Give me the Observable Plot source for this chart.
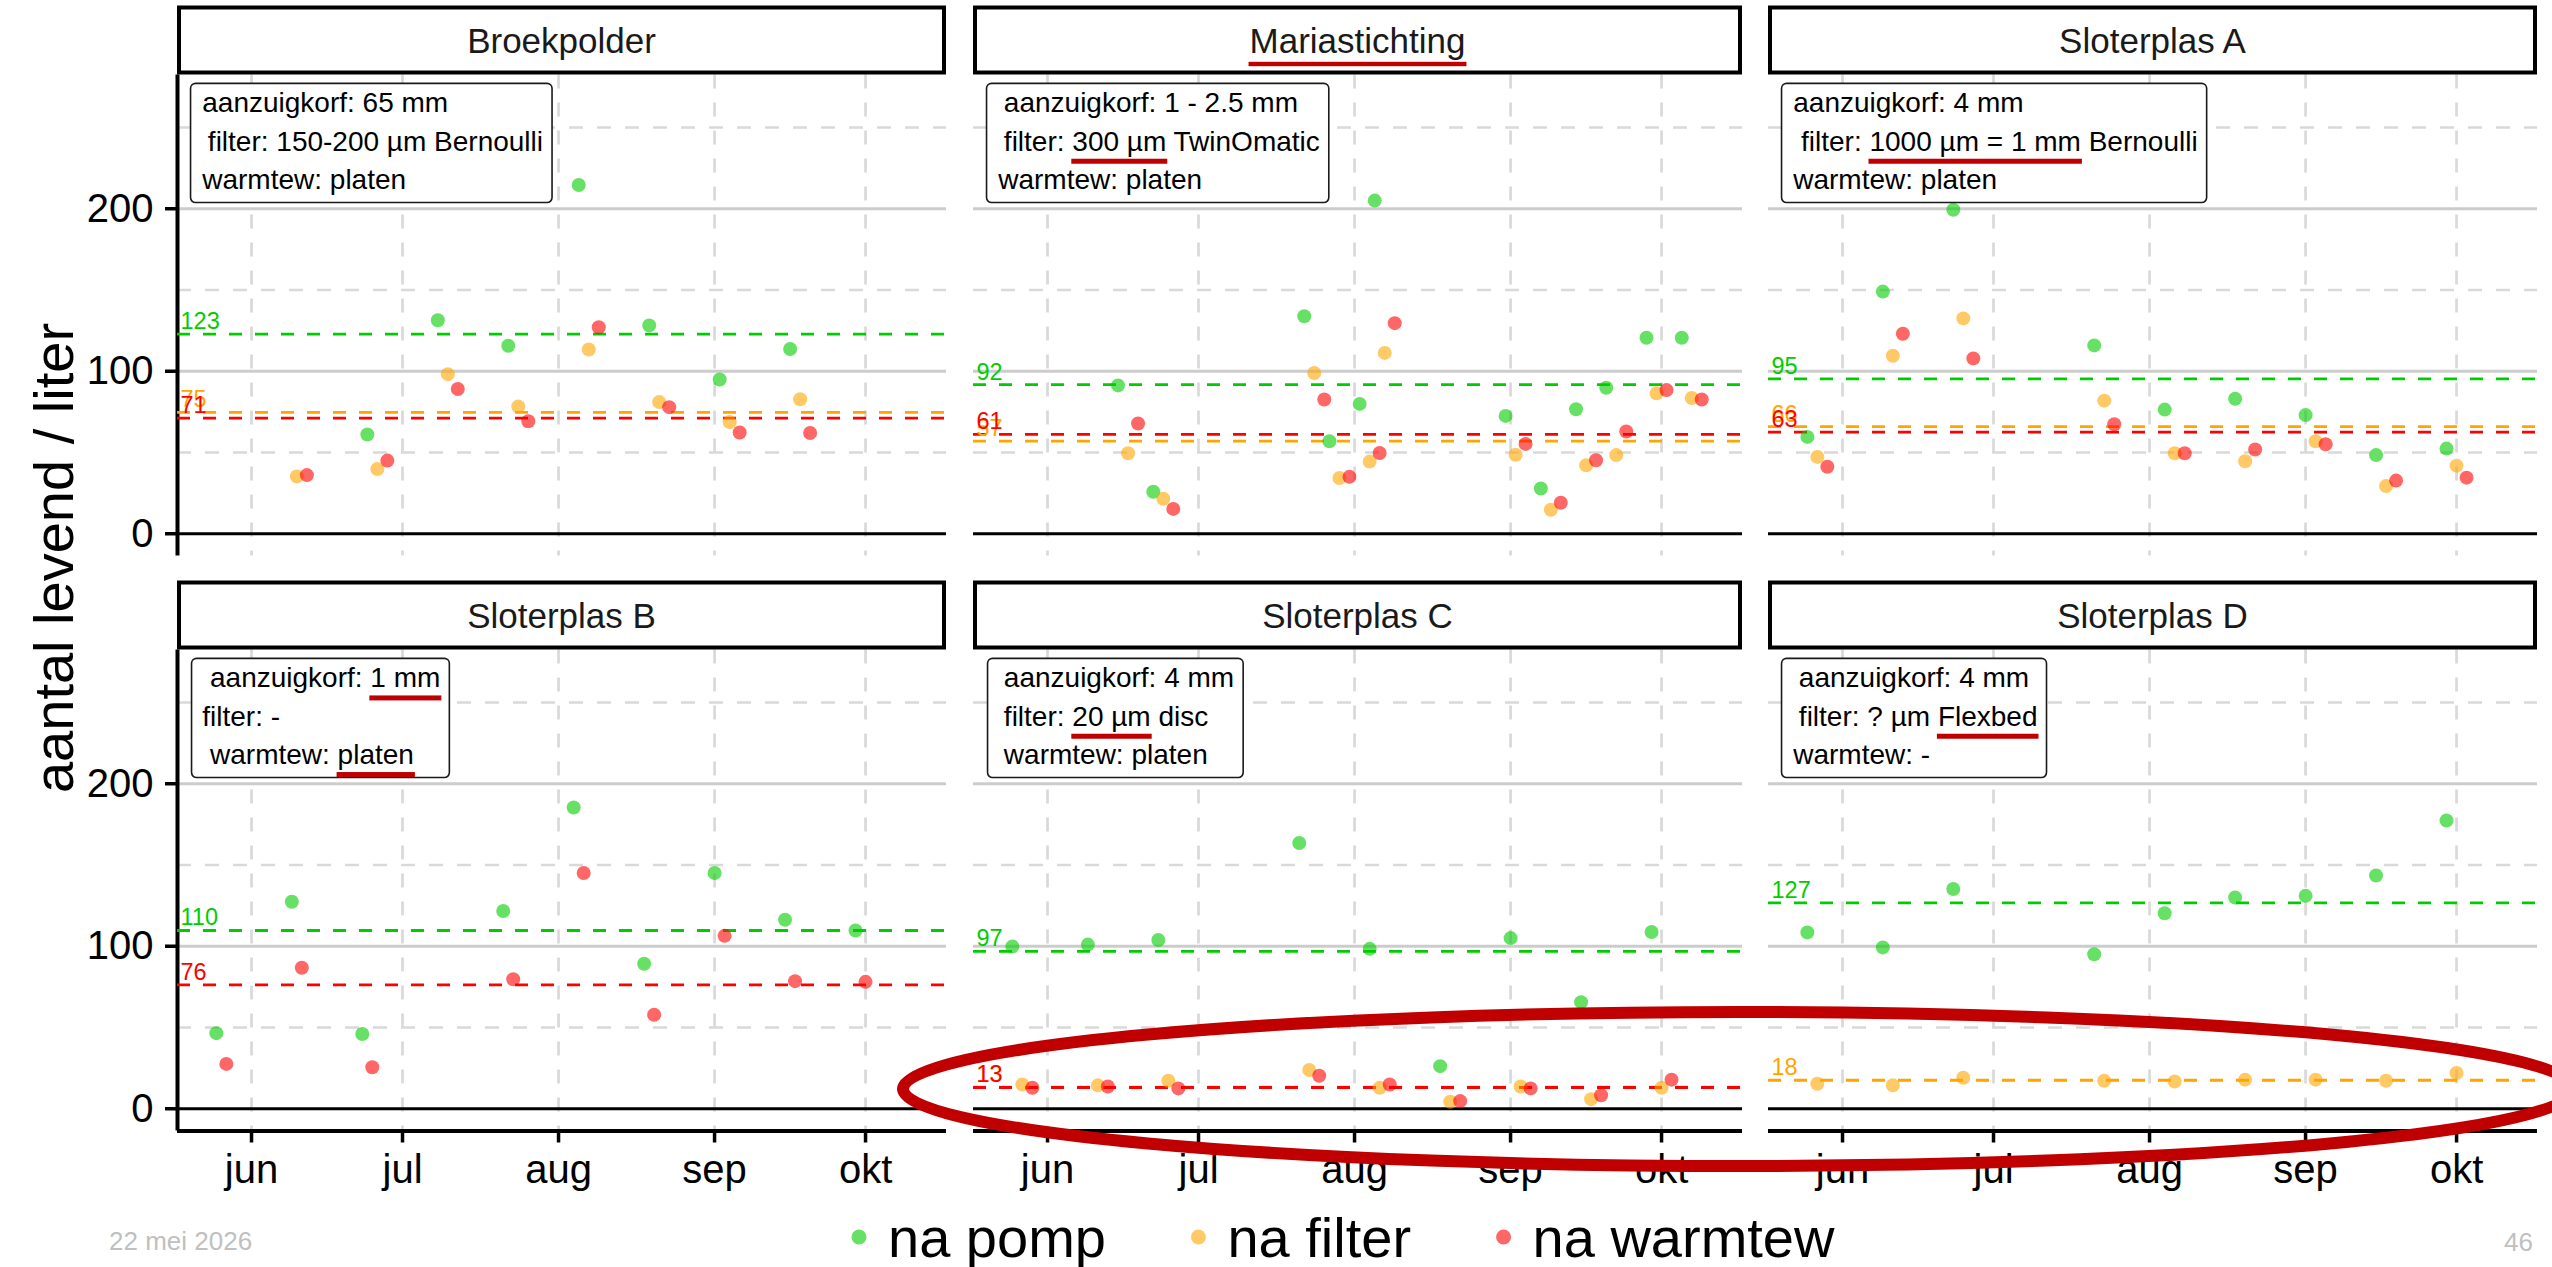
<!DOCTYPE html>
<html>
<head>
<meta charset="utf-8">
<script src="https://cdn.jsdelivr.net/npm/d3@7"></script>
<script src="https://cdn.jsdelivr.net/npm/@observablehq/plot@0.6"></script>
<style>
  html, body { margin: 0; padding: 0; background: #ffffff; }
  #chart { position: relative; width: 2552px; height: 1267px; overflow: hidden;
           font-family: "Liberation Sans", Arial, Helvetica, sans-serif; background: #fff; }
  .panel { position: absolute; }
</style>
</head>
<body>
<div id="chart"></div>
<script>
// ---------------- DATA ----------------
const panelNames = ["Broekpolder", "Mariastichting", "Sloterplas A", "Sloterplas B", "Sloterplas C", "Sloterplas D"];
const seriesNames = ["na pomp", "na filter", "na warmtew"];
const seriesColors = ["#00cd00", "#ffa500", "#ff0000"];
const monthTicks = ["2025-06-01", "2025-07-01", "2025-08-01", "2025-09-01", "2025-10-01"];
const monthLabels = ["jun", "jul", "aug", "sep", "okt"];
const yTicks = [0, 100, 200];
const yMinorTicks = [50, 150, 250];

const broekpolderDates = ["2025-06-11", "2025-06-26", "2025-07-10", "2025-07-24", "2025-08-07", "2025-08-21", "2025-09-04", "2025-09-18"];
const broekpolderPomp = [null, 61.1, 131.4, 115.7, 214.6, 128.2, 94.9, 113.7];
const broekpolderFilter = [35.3, 39.8, 98.2, 78.3, 113.4, 81.0, 68.7, 82.8];
const broekpolderWarmtew = [36.1, 45.0, 89.1, 69.2, 127.1, 77.9, 62.3, 62.0];

const mariastichtingDates = ["2025-06-17", "2025-06-24", "2025-07-24", "2025-07-29", "2025-08-04", "2025-08-07", "2025-09-02", "2025-09-09", "2025-09-16", "2025-09-22", "2025-09-30", "2025-10-07"];
const mariastichtingPomp = [91.3, 25.8, 133.8, 56.9, 79.9, 205.0, 72.5, 27.8, 76.6, 89.8, 120.6, 120.6];
const mariastichtingFilter = [49.5, 21.5, 98.9, 34.3, 44.4, 111.3, 48.6, 14.8, 42.1, 48.4, 86.4, 83.5];
const mariastichtingWarmtew = [67.8, 15.3, 82.6, 35.0, 49.7, 129.6, 55.3, 19.1, 45.2, 62.9, 88.4, 82.6];

const sloterplasADates = ["2025-05-27", "2025-06-11", "2025-06-25", "2025-07-23", "2025-08-06", "2025-08-20", "2025-09-03", "2025-09-17", "2025-10-01"];
const sloterplasAPomp = [59.6, 149.0, 199.4, 115.9, 76.4, 83.1, 73.0, 48.4, 52.4];
const sloterplasAFilter = [47.3, 109.5, 132.5, 81.9, 49.5, 44.6, 56.9, 29.4, 41.9];
const sloterplasAWarmtew = [41.2, 123.1, 107.9, 67.4, 49.5, 51.8, 55.1, 32.7, 34.5];

const sloterplasBDates = ["2025-05-26", "2025-06-10", "2025-06-24", "2025-07-22", "2025-08-05", "2025-08-19", "2025-09-02", "2025-09-16", "2025-09-30"];
const sloterplasBPomp = [46.5, 127.4, 46.0, 121.7, 185.4, 89.2, 145.1, 116.3, 109.7];
const sloterplasBFilter = [];
const sloterplasBWarmtew = [27.6, 86.8, 25.5, 79.7, 145.1, 57.8, 106.4, 78.5, 78.1];

const sloterplasCDates = ["2025-05-27", "2025-06-11", "2025-06-25", "2025-07-23", "2025-08-06", "2025-08-20", "2025-09-03", "2025-09-17", "2025-10-01"];
const sloterplasCPomp = [99.8, 101.0, 103.8, 163.5, 98.4, 26.2, 105.0, 65.6, 108.8];
const sloterplasCFilter = [14.9, 14.4, 17.2, 23.8, 12.9, 4.3, 13.7, 5.9, 12.9];
const sloterplasCWarmtew = [12.9, 13.7, 12.5, 20.3, 14.9, 4.7, 12.5, 8.3, 17.9];

const sloterplasDDates = ["2025-05-26", "2025-06-10", "2025-06-24", "2025-07-22", "2025-08-05", "2025-08-19", "2025-09-02", "2025-09-16", "2025-09-30"];
const sloterplasDPomp = [108.5, 99.3, 135.2, 95.1, 120.3, 130.0, 131.0, 143.5, 177.4];
const sloterplasDFilter = [15.4, 14.4, 19.1, 17.2, 16.8, 17.9, 17.9, 17.2, 22.0];
const sloterplasDWarmtew = [];

const broekpolderInfo = ["aanzuigkorf: 65 mm", "\u2009filter: 150-200 µm Bernoulli", "warmtew: platen"];
const mariastichtingInfo = ["\u2009aanzuigkorf: 1 - 2.5 mm", "\u2009filter: 300 µm TwinOmatic", "warmtew: platen"];
const sloterplasAInfo = ["aanzuigkorf: 4 mm", "\u00a0filter: 1000 µm = 1 mm Bernoulli", "warmtew: platen"];
const sloterplasBInfo = ["\u00a0aanzuigkorf: 1 mm", "filter: -", "\u00a0warmtew: platen"];
const sloterplasCInfo = ["\u2009aanzuigkorf: 4 mm", "\u2009filter: 20 µm disc", "\u2009warmtew: platen"];
const sloterplasDInfo = ["\u2009aanzuigkorf: 4 mm", "\u2009filter: ? µm Flexbed", "warmtew: -"];

// highlighted (underlined) words: [line index, text]
const mariastichtingHighlights = [[1, "300 µm"]];
const sloterplasAHighlights = [[1, "1000 µm = 1 mm"]];
const sloterplasBHighlights = [[0, "1 mm"], [2, "platen"]];
const sloterplasCHighlights = [[1, "20 µm"]];
const sloterplasDHighlights = [[1, "Flexbed"]];
const highlightedTitles = ["Mariastichting"];

const footerDate = "22 mei 2026";
const footerPage = "46";
const yTitle = "aantal levend / liter";

// ---------------- TABLE ----------------
const panels = [
  {name: panelNames[0], dates: broekpolderDates, values: [broekpolderPomp, broekpolderFilter, broekpolderWarmtew], info: broekpolderInfo, hl: []},
  {name: panelNames[1], dates: mariastichtingDates, values: [mariastichtingPomp, mariastichtingFilter, mariastichtingWarmtew], info: mariastichtingInfo, hl: mariastichtingHighlights},
  {name: panelNames[2], dates: sloterplasADates, values: [sloterplasAPomp, sloterplasAFilter, sloterplasAWarmtew], info: sloterplasAInfo, hl: sloterplasAHighlights},
  {name: panelNames[3], dates: sloterplasBDates, values: [sloterplasBPomp, sloterplasBFilter, sloterplasBWarmtew], info: sloterplasBInfo, hl: sloterplasBHighlights},
  {name: panelNames[4], dates: sloterplasCDates, values: [sloterplasCPomp, sloterplasCFilter, sloterplasCWarmtew], info: sloterplasCInfo, hl: sloterplasCHighlights},
  {name: panelNames[5], dates: sloterplasDDates, values: [sloterplasDPomp, sloterplasDFilter, sloterplasDWarmtew], info: sloterplasDInfo, hl: sloterplasDHighlights}
];

// ---------------- LAYOUT ----------------
const NS = "http://www.w3.org/2000/svg";
const FONT = '"Liberation Sans", Arial, Helvetica, sans-serif';
const PANEL_W = 769, PANEL_H = 481, STRIP_H = 69, STRIP_TOP = 5.5;
const colLeft = [177, 972.5, 1767.5];
const rowTop = [74.5, 649.5];
const xDomain = [new Date(Date.UTC(2025, 4, 17, 7)), new Date(Date.UTC(2025, 9, 17, 2))];
const yDomain = [-13.7, 282.3];
const infoX = new Date(Date.UTC(2025, 4, 22, 5));
const infoY = 276;
const monthDates = monthTicks.map(d => new Date(d + "T00:00:00Z"));

function buildRows(p) {
  const rows = [];
  p.dates.forEach((ds, i) => {
    const present = [0, 1, 2].filter(s => p.values[s][i] != null);
    present.forEach((s, k) => rows.push({
      date: new Date(ds + "T00:00:00Z"), value: p.values[s][i], series: s,
      off: (k - (present.length - 1) / 2) * 10
    }));
  });
  const means = [0, 1, 2].filter(s => p.values[s].some(v => v != null))
    .map(s => ({series: s, mean: d3.mean(p.values[s])}));
  return {rows, means};
}

function stripMark(title, W, ml, mr) {
  return () => {
    const g = d3.create("svg:g");
    const x0 = ml, x1 = W - mr;
    g.append("rect").attr("x", x0 + 2).attr("y", STRIP_TOP + 2)
      .attr("width", x1 - x0 - 4).attr("height", STRIP_H - 4)
      .attr("fill", "white").attr("stroke", "black").attr("stroke-width", 4);
    g.append("text").attr("class", "striptext").attr("x", (x0 + x1) / 2).attr("y", STRIP_TOP + 47.2)
      .attr("text-anchor", "middle").attr("font-size", 35).attr("fill", "#1a1a1a")
      .text(title);
    return g.node();
  };
}

function makePanel(p, i) {
  const row = Math.floor(i / 3), col = i % 3;
  const ml = col === 0 ? 177 : 24, mr = 24, mt = STRIP_TOP + STRIP_H, mb = row === 1 ? 72 : 6;
  const W = ml + PANEL_W + mr, H = mt + PANEL_H + mb;
  const {rows, means} = buildRows(p);
  const offsets = [...new Set(rows.map(d => d.off))].sort((a, b) => a - b);
  const marks = [
    Plot.ruleY(yMinorTicks, {stroke: "#d9d9d9", strokeWidth: 2.7, strokeDasharray: "14,14"}),
    Plot.ruleX(monthDates, {stroke: "#d9d9d9", strokeWidth: 2.7, strokeDasharray: "14,14"}),
    Plot.ruleY(yTicks.filter(v => v !== 0), {stroke: "#cccccc", strokeWidth: 3}),
    Plot.ruleY([0], {stroke: "black", strokeWidth: 3})
  ];
  if (col === 0) {
    marks.push(Plot.ruleX([xDomain[0]], {stroke: "black", strokeWidth: 4}));
    marks.push(Plot.axisY({ticks: yTicks, tickSize: 12, tickPadding: 12, fontSize: 40,
      color: "black", strokeWidth: 3.5, label: null, tickFormat: d => String(d)}));
  }
  if (row === 1) {
    marks.push(Plot.ruleY([yDomain[0]], {stroke: "black", strokeWidth: 4}));
    marks.push(Plot.axisX({ticks: monthDates, tickSize: 12, tickPadding: 12, fontSize: 40,
      color: "black", strokeWidth: 3.5, label: null,
      tickFormat: d => monthLabels[monthDates.findIndex(m => +m === +d)]}));
  }
  marks.push(
    Plot.ruleY(means, {y: "mean", stroke: d => seriesColors[d.series], strokeWidth: 2.8, strokeDasharray: "13,13"}),
    Plot.text(means, {y: "mean", text: d => String(Math.round(d.mean)), fill: d => seriesColors[d.series],
      frameAnchor: "left", textAnchor: "start", lineAnchor: "bottom", dx: 3, dy: -5, fontSize: 23.5})
  );
  offsets.forEach(o => marks.push(
    Plot.dot(rows.filter(d => d.off === o), {x: "date", y: "value", r: 7,
      fill: d => seriesColors[d.series], fillOpacity: 0.6, dx: o})
  ));
  marks.push(
    Plot.text([{x: infoX, y: infoY, text: p.info.join("\n")}], {x: "x", y: "y", text: "text",
      textAnchor: "start", lineAnchor: "top", lineHeight: 1.368, fontSize: 28, fill: "black"}),
    stripMark(p.name, W, ml, mr)
  );
  const svg = Plot.plot({
    width: W, height: H,
    marginLeft: ml, marginRight: mr, marginTop: mt, marginBottom: mb,
    x: Object.assign({type: "utc", domain: xDomain}, row === 1 ? {} : {axis: null}),
    y: Object.assign({domain: yDomain}, col === 0 ? {} : {axis: null}),
    color: {type: "identity"},
    style: {background: "transparent", overflow: "visible", maxWidth: "none", fontFamily: FONT},
    marks
  });
  const div = document.createElement("div");
  div.className = "panel";
  div.style.left = (colLeft[col] - ml) + "px";
  div.style.top = (rowTop[row] - mt) + "px";
  div.style.width = W + "px";
  div.style.height = H + "px";
  div.appendChild(svg);
  return {div, svg, p};
}

function addUnderline(el, textNode, str, offsetY, thick, transform) {
  const s = textNode.textContent;
  const k = s.indexOf(str);
  if (k < 0) return;
  const p0 = textNode.getStartPositionOfChar(k);
  const p1 = textNode.getEndPositionOfChar(k + str.length - 1);
  const r = document.createElementNS(NS, "rect");
  r.setAttribute("x", p0.x - 1);
  r.setAttribute("y", p0.y + offsetY);
  r.setAttribute("width", p1.x - p0.x + 2);
  r.setAttribute("height", thick);
  r.setAttribute("fill", "#c00000");
  if (transform) r.setAttribute("transform", transform);
  el.appendChild(r);
}

function decorate({svg, p}) {
  svg.querySelectorAll("text").forEach(t => {
    if (!t.querySelector("tspan")) return;
    const bb = t.getBBox();
    const tr = t.getAttribute("transform");
    const rect = document.createElementNS(NS, "rect");
    rect.setAttribute("x", bb.x - 10.7);
    rect.setAttribute("y", bb.y - 4.1);
    rect.setAttribute("width", bb.width + 19.7);
    rect.setAttribute("height", bb.height + 11.6);
    rect.setAttribute("rx", 5);
    rect.setAttribute("fill", "white");
    rect.setAttribute("stroke", "#1a1a1a");
    rect.setAttribute("stroke-width", 1.6);
    if (tr) rect.setAttribute("transform", tr);
    t.parentNode.insertBefore(rect, t);
    const spans = t.querySelectorAll("tspan");
    p.hl.forEach(([li, word]) => {
      if (spans[li]) addUnderline(t.parentNode, spans[li], word, 8, 5, tr);
    });
  });
  svg.querySelectorAll("text.striptext").forEach(t => {
    if (highlightedTitles.includes(t.textContent)) addUnderline(t.parentNode, t, t.textContent, 9.1, 4.4, null);
  });
}

const chart = document.getElementById("chart");
const built = panels.map((p, i) => makePanel(p, i));
built.forEach(b => chart.appendChild(b.div));
built.forEach(decorate);

// ---------------- OVERLAY: axis title, legend, footer, annotation ----------------
const overlay = d3.select(chart).append("svg")
  .attr("width", 2552).attr("height", 1267)
  .style("position", "absolute").style("left", "0px").style("top", "0px")
  .style("pointer-events", "none").style("font-family", FONT);

overlay.append("text")
  .attr("transform", "translate(73,558) rotate(-90)")
  .attr("text-anchor", "middle").attr("font-size", 56).attr("fill", "black")
  .text(yTitle);

// legend
let lx = 859;
seriesNames.forEach((name, s) => {
  overlay.append("circle").attr("cx", lx).attr("cy", 1237).attr("r", 7.5)
    .attr("fill", seriesColors[s]).attr("fill-opacity", 0.6);
  const t = overlay.append("text").attr("x", lx + 29).attr("y", 1256.7)
    .attr("font-size", 56).attr("fill", "black").text(name);
  const len = t.node().getComputedTextLength();
  lx = lx + 29 + len + 85 + 7.5;
});

overlay.append("text").attr("x", 109).attr("y", 1250).attr("font-size", 26)
  .attr("fill", "#c0c0c0").text(footerDate);
overlay.append("text").attr("x", 2533).attr("y", 1251).attr("font-size", 26)
  .attr("text-anchor", "end").attr("fill", "#c0c0c0").text(footerPage);

// hand-drawn highlight ellipse around the low values
overlay.append("ellipse").attr("cx", 1739).attr("cy", 1089).attr("rx", 836).attr("ry", 77)
  .attr("fill", "none").attr("stroke", "#c00000").attr("stroke-width", 12);
</script>
</body>
</html>
